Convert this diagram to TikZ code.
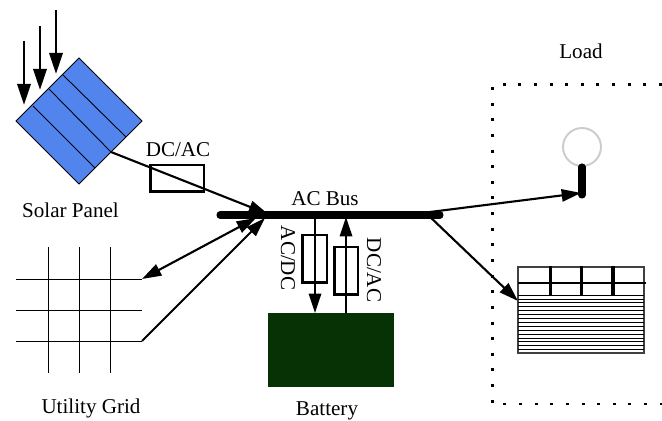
\documentclass[tikz,border=0pt]{standalone}
\usepackage{fontspec}
\setmainfont{Liberation Serif}
\usetikzlibrary{arrows.meta}

\definecolor{panelblue}{RGB}{82,132,238}
\definecolor{batterygreen}{RGB}{6,50,6}

\tikzset{
  sun/.style={line width=1.7pt, -{Triangle[length=12pt,width=7.5pt]}},
  feed/.style={line width=1.2pt, -{Triangle[length=11pt,width=7pt]}},
  conv/.style={draw, line width=1.7pt, inner sep=0pt},
  thin line/.style={line width=0.5pt},
  label/.style={font=\fontsize{12}{14}\selectfont, inner sep=0pt}
}

\begin{document}
\begin{tikzpicture}[x=0.02cm, y=-0.02cm]
    \useasboundingbox (0,0) rectangle (662,421);

    % solar panel
    \draw[fill=panelblue, thin line] (79,58) -- (142,121) -- (79,184) -- (16,121) -- cycle;
    \draw[thin line] (63,75) -- (126,137);
    \draw[thin line] (49,89) -- (111,152);
    \draw[thin line] (33,106) -- (95,168);
    \coordinate (sunA) at (24,41);
    \coordinate (sunB) at (40,26);
    \coordinate (sunC) at (56,10);
    \coordinate (hitA) at (24,105);
    \coordinate (hitB) at (40,90);
    \coordinate (hitC) at (56,74);
    \draw[sun] (sunA) -- (hitA);
    \draw[sun] (sunB) -- (hitB);
    \draw[sun] (sunC) -- (hitC);
    \node[label] (solar) at (70.5,210) {Solar Panel};

    % utility grid
    \foreach \y in {279,310,341}
      \draw[thin line] (16,\y) -- (142,\y);
    \foreach \x in {48,79,110}
      \draw[thin line] (\x,247) -- (\x,373);
    \node[label] (utility) at (91,408) {Utility Grid};

    % bus
    \coordinate (panelout) at (111,152);
    \coordinate (gridtop) at (142,279);
    \coordinate (gridbot) at (142,341);
    \coordinate (busA) at (268,214);
    \coordinate (busB) at (256,218);
    \coordinate (busC) at (265,218);
    \coordinate (busleft) at (220,215);
    \coordinate (busright) at (440,215);
    \draw[line width=4pt, line cap=round] (busleft) -- (busright);
    \node[label] (bus) at (325,199) {AC Bus};

    \draw[feed] (panelout) -- (busA);
    \draw[feed, {Triangle[length=11pt,width=7pt]}-{Triangle[length=11pt,width=7pt]}] (gridtop) -- (busB);
    \draw[feed] (gridbot) -- (busC);
    \node[conv, minimum width=1.08cm, minimum height=0.54cm] (dcac) at (177,178.5) {};
    \node[label] (dcaclabel) at (178,150) {DC/AC};

    % battery
    \node[fill=batterygreen, inner sep=0pt, minimum width=2.52cm, minimum height=1.48cm] (battery) at (331,350) {};
    \node[label] (batterylabel) at (327,411) {Battery};
    \coordinate (bustapA) at (315,215);
    \coordinate (bustapB) at (346,217);
    \coordinate (battinA) at (315,313);
    \coordinate (battoutB) at (346,313);
    \draw[feed] (bustapA) -- (battinA);
    \draw[feed] (battoutB) -- (bustapB);
    \node[conv, minimum width=0.5cm, minimum height=0.96cm] (acdc) at (314.5,259) {};
    \node[conv, minimum width=0.48cm, minimum height=0.96cm] (dcacB) at (346,271) {};
    \node[label, rotate=-90] (acdclabel) at (288,258) {AC/DC};
    \node[label, rotate=-90] (dcacBlabel) at (374,270) {DC/AC};

    % load
    \node[label] (load) at (581,51) {Load};
    \draw[line width=1.7pt, dash pattern=on 1.7pt off 7.2pt] (662,85) -- (492,85) -- (492,404) -- (662,404);
    \node[draw=black!20, line width=1.1pt, circle, inner sep=0pt, minimum size=0.76cm] (bulb) at (582,147) {};
    \coordinate (bulbbase) at (582,195);
    \draw[line width=4pt, line cap=round] (bulb.south) -- (bulbbase);
    \coordinate (tapA) at (430,212);
    \coordinate (tapB) at (428,215);
    \coordinate (bulbin) at (581,193);
    \coordinate (boxin) at (518,301);
    \draw[feed] (tapA) -- (bulbin);
    \draw[feed] (tapB) -- (boxin);

    % load box
    \draw[line width=0.7pt, black!75] (518,267) rectangle (644,353);
    \foreach \k in {0,...,14}
      \draw[line width=0.45pt] (518,{295+3.9*\k}) -- (644,{295+3.9*\k});
    \draw[line width=1.7pt] (518,283) -- (646,283);
    \draw[line width=1.7pt] (550,266) -- (550,295);
    \draw[line width=1.7pt] (581,266) -- (581,295);
    \draw[line width=2.4pt] (613,266) -- (613,295);
\end{tikzpicture}
\end{document}
